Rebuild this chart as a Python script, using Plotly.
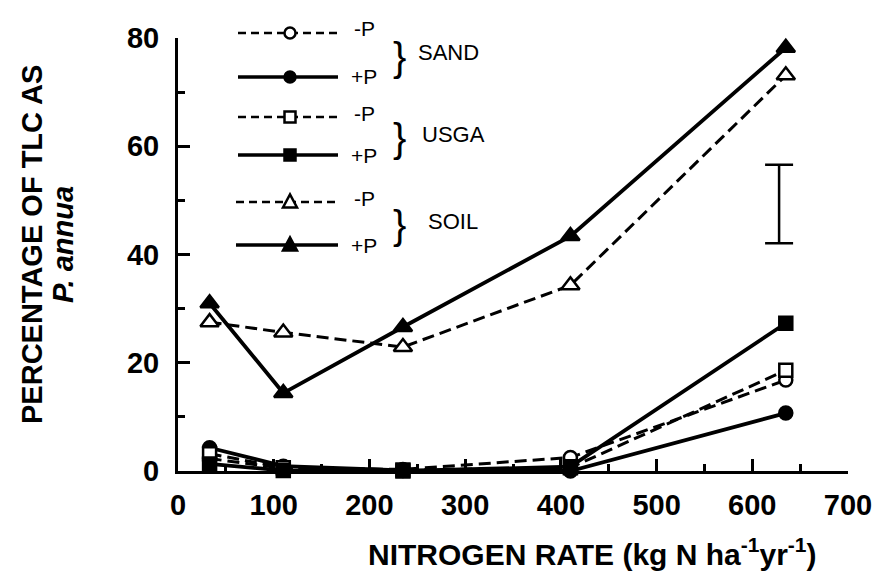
import plotly.graph_objects as go

# Nitrogen rates (kg N ha-1 yr-1)
n_rate = [33, 110, 235, 410, 635]

# Percentage of total living cover as P. annua
sand_minus_p = [2.3, 0.5, 0.3, 2.5, 16.8]
sand_plus_p = [4.3, 0.9, 0.1, 0.0, 10.7]
usga_minus_p = [3.2, 0.6, 0.2, 0.6, 18.6]
usga_plus_p = [1.3, 0.1, 0.0, 0.8, 27.3]
soil_minus_p = [27.5, 25.6, 22.9, 34.3, 73.1]
soil_plus_p = [31.0, 14.4, 26.6, 43.4, 78.2]

# LSD bar
lsd_x = 628
lsd_low, lsd_high = 42.1, 56.6

x_ticks = [0, 100, 200, 300, 400, 500, 600, 700]
y_ticks = [0, 20, 40, 60, 80]

FONT = "Liberation Sans, Arial, sans-serif"
W, H = 887, 574
ML, MR, MT, MB = 178, 39, 38, 103
PW, PH = W - ML - MR, H - MT - MB


def px(x):
    return (x - ML) / PW


def py(y):
    return (H - MB - y) / PH


series = [
    ("SAND", "-P", sand_minus_p, "circle", "white", "dash"),
    ("SAND", "+P", sand_plus_p, "circle", "black", "solid"),
    ("USGA", "-P", usga_minus_p, "square", "white", "dash"),
    ("USGA", "+P", usga_plus_p, "square", "black", "solid"),
    ("SOIL", "-P", soil_minus_p, "triangle-up", "white", "dash"),
    ("SOIL", "+P", soil_plus_p, "triangle-up", "black", "solid"),
]
marker_size = {"circle": 13, "square": 13, "triangle-up": 16}

fig = go.Figure()

for soil, p, vals, sym, fill, dash in series:
    fig.add_trace(go.Scatter(
        x=n_rate, y=vals, mode="lines+markers",
        line=dict(color="black", width=3.8 if dash == "solid" else 3,
                  dash="solid" if dash == "solid" else "12px,6px"),
        marker=dict(symbol=sym, size=marker_size[sym], color=fill,
                    line=dict(color="black", width=2.5)),
        cliponaxis=False, showlegend=False, name=f"{soil} {p}",
    ))

# LSD bar drawn as an error bar about its midpoint
fig.add_trace(go.Scatter(
    x=[lsd_x], y=[(lsd_low + lsd_high) / 2], mode="markers",
    marker=dict(size=1, color="rgba(0,0,0,0)"),
    error_y=dict(type="data", array=[(lsd_high - lsd_low) / 2],
                 color="black", thickness=2.5, width=14),
    showlegend=False, hoverinfo="skip",
))

# Legend key glyphs (pixel-sized shapes anchored in paper coordinates)
glyph_path = {
    "circle": None,
    "square": "M-5.5,-5.5 L5.5,-5.5 L5.5,5.5 L-5.5,5.5 Z",
    "triangle-up": "M-7,-5.5 L7,-5.5 L0,7.5 Z",
}

row_y = [33, 77, 117, 155, 202, 245]
line_shapes = []
glyph_shapes = []
annotations = []
for i, (soil, p, vals, sym, fill, dash) in enumerate(series):
    yy = py(row_y[i])
    x0 = 236 if soil == "SOIL" else 238
    line_shapes.append(dict(
        type="line", xref="paper", yref="paper",
        x0=px(x0), x1=px(338), y0=yy, y1=yy,
        line=dict(color="black", width=3.5 if dash == "solid" else 2.5,
                  dash="solid" if dash == "solid" else "8px,5px"),
    ))
    g = dict(xref="paper", yref="paper", xsizemode="pixel", ysizemode="pixel",
             xanchor=px(290), yanchor=yy, fillcolor=fill,
             line=dict(color="black", width=2.5))
    if sym == "circle":
        g.update(type="circle", x0=-5.5, x1=5.5, y0=-5.5, y1=5.5)
    else:
        g.update(type="path", path=glyph_path[sym])
    glyph_shapes.append(g)
    annotations.append(dict(
        xref="paper", yref="paper", x=px(364), y=yy + (4 / PH if p == "-P" else 0),
        text=p, showarrow=False, font=dict(family=FONT, size=21, color="black"),
        xanchor="center", yanchor="middle",
    ))

for soil, top, bot, tx in [("SAND", 0, 1, 448), ("USGA", 2, 3, 453), ("SOIL", 4, 5, 453)]:
    mid = (row_y[top] + row_y[bot]) / 2
    annotations.append(dict(
        xref="paper", yref="paper", x=px(399), y=py(mid + 2),
        text="}", showarrow=False, font=dict(family=FONT, size=40, color="black"),
        xanchor="center", yanchor="middle",
    ))
    annotations.append(dict(
        xref="paper", yref="paper", x=px(tx), y=py(mid - 2),
        text=soil, showarrow=False, font=dict(family=FONT, size=22, color="black"),
        xanchor="center", yanchor="middle",
    ))

# Axis titles
annotations.append(dict(
    xref="paper", yref="paper", x=px(32), y=py(245),
    text="<b>PERCENTAGE OF TLC AS</b>", textangle=-90, showarrow=False,
    font=dict(family=FONT, size=29, color="black"), xanchor="center", yanchor="middle",
))
annotations.append(dict(
    xref="paper", yref="paper", x=px(63), y=py(245),
    text="<b><i>P. annua</i></b>", textangle=-90, showarrow=False,
    font=dict(family=FONT, size=29, color="black"), xanchor="center", yanchor="middle",
))
annotations.append(dict(
    xref="paper", yref="paper", x=px(592), y=py(552),
    text="<b>NITROGEN RATE (kg N ha<sup>-1</sup>yr<sup>-1</sup>)</b>", showarrow=False,
    font=dict(family=FONT, size=30, color="black"), xanchor="center", yanchor="middle",
))

axis_common = dict(
    showgrid=False, zeroline=False, showline=True, linecolor="black", linewidth=3,
    ticks="inside", tickcolor="black", tickwidth=3, ticklen=12,
    tickfont=dict(family=FONT, size=29, color="black"),
    minor=dict(ticks="inside", ticklen=7, tickwidth=3, tickcolor="black"),
)

fig.update_layout(
    width=W, height=H,
    margin=dict(l=ML, r=MR, t=MT, b=MB),
    paper_bgcolor="white", plot_bgcolor="white",
    xaxis=dict(range=[0, 700], tickvals=x_ticks,
               ticktext=[f"<b>{v}</b>" for v in x_ticks],
               minor_dtick=50, ticklabelstandoff=6, **axis_common),
    yaxis=dict(range=[0, 80], tickvals=y_ticks,
               ticktext=[f"<b>{v}</b>" for v in y_ticks],
               minor_dtick=10, ticklabelstandoff=10, **axis_common),
    shapes=line_shapes + glyph_shapes,
    annotations=annotations,
    showlegend=False,
)

fig.write_html("out.html")
